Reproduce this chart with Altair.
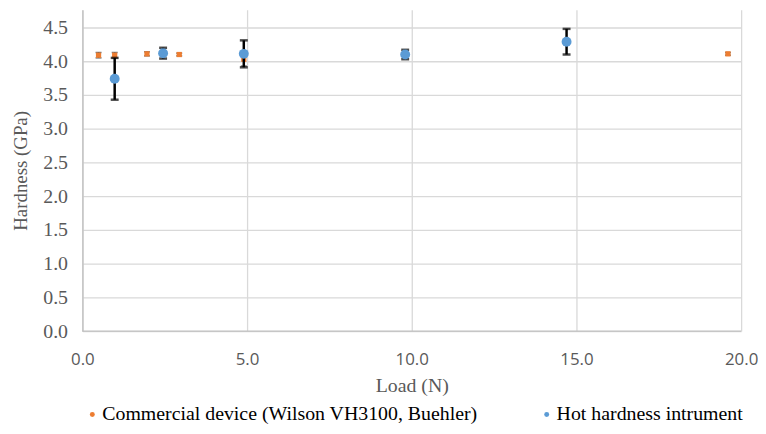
import altair as alt
import pandas as pd

series_c = "Commercial device (Wilson VH3100, Buehler)"
series_h = "Hot hardness intrument"

load_c = [0.49, 0.98, 1.96, 2.94, 4.9, 9.8, 19.6]
hard_c = [4.09, 4.09, 4.11, 4.10, 4.03, 4.08, 4.11]
err_c = [0.04, 0.04, 0.03, 0.02, 0.10, 0.03, 0.02]

load_h = [0.98, 2.45, 4.9, 9.8, 14.7]
hard_h = [3.74, 4.12, 4.11, 4.10, 4.29]
err_h = [0.31, 0.08, 0.20, 0.07, 0.19]

dc = pd.DataFrame({"load": load_c, "hard": hard_c, "err": err_c, "series": series_c})
dh = pd.DataFrame({"load": load_h, "hard": hard_h, "err": err_h, "series": series_h})
for d in (dc, dh):
    d["lo"] = d["hard"] - d["err"]
    d["hi"] = d["hard"] + d["err"]

xs = alt.Scale(domain=[0, 20], nice=False, zero=True)
ys = alt.Scale(domain=[0, 4.765], nice=False, zero=True)

x_axis = alt.Axis(values=[0, 5, 10, 15, 20], format=".1f",
                  labelFont="Open Sans", labelFontSize=17, labelColor="#595959",
                  labelPadding=21, labelFlush=False, labelOverlap=False,
                  ticks=False, domain=False,
                  grid=True, gridColor="#D9D9D9", gridWidth=1.3,
                  titleFont="Liberation Serif", titleFontSize=20, titleFontWeight="normal",
                  titleColor="#595959", titlePadding=8)
y_axis = alt.Axis(values=[0, 0.5, 1, 1.5, 2, 2.5, 3, 3.5, 4, 4.5], format=".1f",
                  labelFont="Liberation Serif", labelFontSize=20, labelColor="#595959",
                  labelPadding=15, labelOverlap=False, labelFlush=False,
                  ticks=False, domain=True, domainColor="#BFBFBF",
                  domainWidth=1.3,
                  grid=True, gridColor="#D9D9D9", gridWidth=1.3,
                  titleFont="Liberation Serif", titleFontSize=19, titleFontWeight="normal",
                  titleColor="#595959", titlePadding=12)

X = lambda f: alt.X(f"{f}:Q", scale=xs, axis=x_axis, title="Load (N)")
Y = lambda f: alt.Y(f"{f}:Q", scale=ys, axis=y_axis, title="Hardness (GPa)")

color = alt.Color("series:N",
                  scale=alt.Scale(domain=[series_c, series_h], range=["#ED7D31", "#5B9BD5"]),
                  legend=alt.Legend(title=None, orient="none", direction="horizontal",
                                    legendX=0, legendY=398, symbolType="circle", symbolSize=25,
                                    labelOffset=0,
                                    labelFont="Liberation Serif", labelFontSize=20,
                                    labelColor="#000000", columnPadding=59, symbolOpacity=1,
                                    labelLimit=500))

# bottom x-axis line
axis_line = alt.Chart(pd.DataFrame({"v": [0], "load": [0]})).mark_rule(
    color="#BFBFBF", strokeWidth=1.3).encode(
    y=Y("v"), x=alt.value(0), x2=alt.value(664))

err_c_rule = alt.Chart(dc).mark_rule(color="#404040", strokeWidth=1.5).encode(
    x=X("load"), y=Y("lo"), y2="hi:Q")
err_c_lo = alt.Chart(dc).mark_tick(color="#404040", thickness=1.5, size=6, orient="horizontal").encode(
    x=X("load"), y=Y("lo"))
err_c_hi = alt.Chart(dc).mark_tick(color="#404040", thickness=1.5, size=6, orient="horizontal").encode(
    x=X("load"), y=Y("hi"))

pts_c = alt.Chart(dc).mark_point(shape="square", filled=True, size=28, opacity=1).encode(
    x=X("load"), y=Y("hard"), color=color)

err_h_rule = alt.Chart(dh).mark_rule(color="#000000", strokeWidth=2.5).encode(
    x=X("load"), y=Y("lo"), y2="hi:Q")
err_h_lo = alt.Chart(dh).mark_tick(color="#000000", thickness=2.5, size=8, orient="horizontal").encode(
    x=X("load"), y=Y("lo"))
err_h_hi = alt.Chart(dh).mark_tick(color="#000000", thickness=2.5, size=8, orient="horizontal").encode(
    x=X("load"), y=Y("hi"))

pts_h = alt.Chart(dh).mark_point(shape="circle", filled=True, size=100, opacity=1).encode(
    x=X("load"), y=Y("hard"), color=color)

chart = alt.layer(axis_line, err_c_rule, err_c_lo, err_c_hi, pts_c,
                  err_h_rule, err_h_lo, err_h_hi, pts_h).properties(
    width=664, height=324,
    background="white",
    autosize=alt.AutoSizeParams(type="none"),
    padding={"left": 75, "top": 0, "right": 17, "bottom": 94},
).configure_view(stroke=None)

chart.save("out.html", embed_options={"renderer": "svg", "actions": False})
